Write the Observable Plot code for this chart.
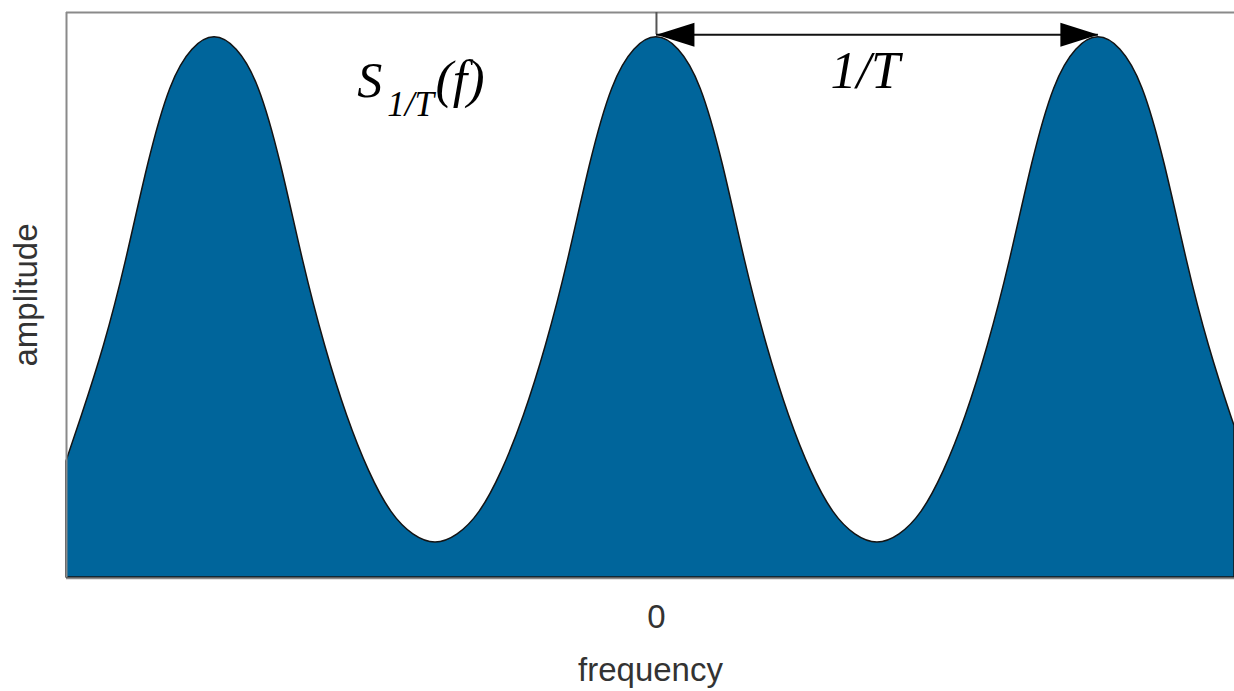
<!DOCTYPE html>
<html>
<head>
<meta charset="utf-8">
<script src="https://cdn.jsdelivr.net/npm/d3@7"></script>
<script src="https://cdn.jsdelivr.net/npm/@observablehq/plot@0.6"></script>
<style>
  html, body { margin: 0; padding: 0; background: #fff; }
  #chart { width: 1234px; height: 691px; overflow: hidden; }
</style>
</head>
<body>
<div id="chart"></div>
<script>
// frequency (in units of 1/T, 0 at centre peak) and amplitude
const freq = [-1.335, -1.30, -1.25, -1.20, -1.15, -1.10, -1.05, -1.00, -0.95, -0.90, -0.85, -0.80, -0.75, -0.70,
  -0.65, -0.60, -0.55, -0.50, -0.45, -0.40, -0.35, -0.30, -0.25, -0.20, -0.15, -0.10, -0.05, 0.00,
  0.05, 0.10, 0.15, 0.20, 0.25, 0.30, 0.35, 0.40, 0.45, 0.50, 0.55, 0.60, 0.65, 0.70,
  0.75, 0.80, 0.85, 0.90, 0.95, 1.00, 1.05, 1.10, 1.15, 1.20, 1.25, 1.30, 1.308];
const amp = [0.215, 0.300, 0.430, 0.588, 0.765, 0.905, 0.977, 1.000, 0.977, 0.905, 0.765, 0.588, 0.430, 0.300,
  0.197, 0.122, 0.080, 0.065, 0.080, 0.122, 0.197, 0.300, 0.430, 0.588, 0.765, 0.905, 0.977, 1.000,
  0.977, 0.905, 0.765, 0.588, 0.430, 0.300, 0.197, 0.122, 0.080, 0.065, 0.080, 0.122, 0.197, 0.300,
  0.430, 0.588, 0.765, 0.905, 0.977, 1.000, 0.977, 0.905, 0.765, 0.588, 0.430, 0.300, 0.283];
const xTickValues = [0];
const xTickLabels = ["0"];
const xDomain = [-1.335, 1.308];
const yDomain = [0, 1.046];
const arrowStart = 0;     // peak at f = 0
const arrowEnd = 1;       // next peak at f = 1/T
const arrowLevel = 1.005;
const labelX = "frequency";
const labelY = "amplitude";

const data = freq.map((f, i) => ({f, a: amp[i]}));

const headLeft = {draw(ctx) { ctx.moveTo(0, 0); ctx.lineTo(38, -12); ctx.lineTo(38, 12); ctx.closePath(); }};
const headRight = {draw(ctx) { ctx.moveTo(0, 0); ctx.lineTo(-38, -12); ctx.lineTo(-38, 12); ctx.closePath(); }};

const frameColor = "#8a8a8a";
const serif = "'Liberation Serif', 'Times New Roman', serif";

const chart = Plot.plot({
  width: 1234,
  height: 691,
  marginLeft: 66,
  marginRight: 0,
  marginTop: 12,
  marginBottom: 114,
  style: {fontFamily: "'Liberation Sans', Arial, sans-serif", fontSize: "33px", color: "#333", background: "#fff"},
  x: {domain: xDomain},
  y: {domain: yDomain},
  marks: [
    Plot.areaY(data, {x: "f", y: "a", fill: "#00659B", stroke: "#141414", strokeWidth: 1.5, curve: "natural"}),
    Plot.ruleY([yDomain[0]], {stroke: frameColor, strokeWidth: 1.5, dy: 1}),
    Plot.ruleY([yDomain[1]], {stroke: frameColor, strokeWidth: 2}),
    Plot.ruleX([xDomain[0]], {stroke: frameColor, strokeWidth: 2}),
    Plot.ruleX([arrowStart], {y1: arrowLevel, y2: yDomain[1], stroke: "#555", strokeWidth: 2}),
    Plot.ruleY([arrowLevel], {x1: arrowStart, x2: arrowEnd, stroke: "#111", strokeWidth: 2}),
    Plot.dot([{f: arrowStart, a: arrowLevel}], {x: "f", y: "a", symbol: headLeft, fill: "#000", stroke: "none"}),
    Plot.dot([{f: arrowEnd, a: arrowLevel}], {x: "f", y: "a", symbol: headRight, fill: "#000", stroke: "none"}),
    Plot.text([{x: -0.677, y: 0.889, t: "S"}], {x: "x", y: "y", text: "t", textAnchor: "start", lineAnchor: "bottom", fontFamily: serif, fontStyle: "italic", fontSize: 50, fill: "#000"}),
    Plot.text([{x: -0.609, y: 0.854, t: "1/T"}], {x: "x", y: "y", text: "t", textAnchor: "start", lineAnchor: "bottom", fontFamily: serif, fontStyle: "italic", fontSize: 35, fill: "#000"}),
    Plot.text([{x: -0.500, y: 0.889, t: "(f)"}], {x: "x", y: "y", text: "t", textAnchor: "start", lineAnchor: "bottom", fontFamily: serif, fontStyle: "italic", fontSize: 52, fill: "#000"}),
    Plot.text([{x: 0.394, y: 0.906, t: "1/T"}], {x: "x", y: "y", text: "t", textAnchor: "start", lineAnchor: "bottom", fontFamily: serif, fontStyle: "italic", fontSize: 52, fill: "#000"}),
    Plot.axisX(xTickValues, {tickSize: 0, tickPadding: 27, tickFormat: (d, i) => xTickLabels[i], label: labelX, labelAnchor: "center", labelOffset: 103, labelArrow: "none"}),
    Plot.axisY([], {label: labelY, labelAnchor: "center", labelOffset: 53, labelArrow: "none"})
  ]
});
document.getElementById("chart").appendChild(chart);
</script>
</body>
</html>
